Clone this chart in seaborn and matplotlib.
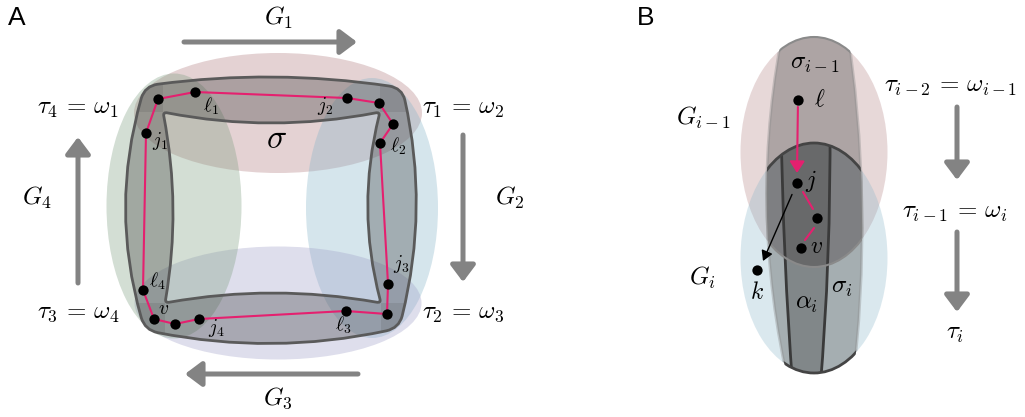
import numpy as np
import pandas as pd
import matplotlib
matplotlib.use('Agg')
import matplotlib.pyplot as plt
import seaborn as sns
from matplotlib.patches import Ellipse, PathPatch, FancyArrowPatch, Rectangle
from matplotlib.path import Path

sns.set_theme(style='white')
plt.rcParams['font.family'] = ['Liberation Sans', 'DejaVu Sans']
plt.rcParams['mathtext.fontset'] = 'cm'

# ---- panel A data (pixel coordinates) ----
group_names_a = ['G1', 'G2', 'G3', 'G4']
group_cx_a = [278, 372, 278, 174]
group_cy_a = [113, 208, 303, 206]
group_w_a = [288, 132, 287, 135]
group_h_a = [120, 260, 113, 265]
group_col_a = ['#b27e81', '#87b5c9', '#a1a1c9', '#81a184']

# ring (sigma): corners + quadratic control points (top, right, bottom, left)
outer_corners = [(145, 86), (402, 88), (399, 328), (145, 330)]
outer_ctrls = [(273, 67), (432, 208), (272, 358), (106, 208)]
inner_corners = [(163, 112), (380, 112), (381, 303), (165, 303)]
inner_ctrls = [(271, 134), (355, 208), (273, 283), (182, 208)]

# nodes on the pink loop, in order
loop_x = [146, 158, 195, 347, 379, 393, 380, 388, 387, 346, 199, 175, 154, 143]
loop_y = [133, 99, 92, 98, 103, 124, 143, 284, 314, 311, 319, 324, 319, 290]

node_labels_a = [r'$\ell_1$', r'$j_2$', r'$j_1$', r'$\ell_2$', r'$j_3$',
                 r'$\ell_4$', r'$v$', r'$j_4$', r'$\ell_3$']
node_lab_x_a = [211, 325, 160, 398, 401, 157, 164, 216, 343]
node_lab_y_a = [106, 106, 141, 146, 264, 281, 310, 328, 325]

big_labels_a = [r'$G_1$', r'$G_2$', r'$G_3$', r'$G_4$',
                r'$\tau_4 \,=\, \omega_1$', r'$\tau_1 \,=\, \omega_2$',
                r'$\tau_3 \,=\, \omega_4$', r'$\tau_2 \,=\, \omega_3$']
big_lab_x_a = [278, 510, 278, 37, 78, 463, 78, 463]
big_lab_y_a = [18, 198, 398, 198, 108, 108, 312, 312]

arrows_a = [((184, 42), (357, 42)), ((463, 135), (463, 282)),
            ((358, 374), (185, 374)), ((78, 283), (78, 137))]

# ---- panel B data ----
group_cx_b = [814, 814]
group_cy_b = [152, 258]
group_w_b = [147, 147]
group_h_b = [230, 230]
group_col_b = ['#b27e81', '#87b5c9']

nodes_b_x = [798, 797, 817, 801, 757]
nodes_b_y = [100, 183, 218, 248, 270]

labels_b = [r'$\sigma_{i-1}$', r'$\ell$', r'$j$', r'$v$', r'$k$',
            r'$G_{i-1}$', r'$G_i$', r'$\sigma_i$', r'$\alpha_i$',
            r'$\tau_{i-2} \,=\, \omega_{i-1}$', r'$\tau_{i-1} \,=\, \omega_i$', r'$\tau_i$']
lab_x_b = [815, 820, 811, 817, 757, 703, 702, 842, 807, 951, 955, 955]
lab_y_b = [63, 100, 181, 247, 293, 118, 278, 287, 303, 86, 212, 333]
small_b = [r'$\ell$', r'$j$', r'$v$', r'$k$']

arrows_b = [((957, 107), (957, 180)), ((957, 232), (957, 312))]

PINK = '#e5206f'
GREY = '#838383'


def sub_quad(p0, c, p1, t0, t1):
    p0, c, p1 = np.array(p0, float), np.array(c, float), np.array(p1, float)
    b = lambda t: (1 - t) ** 2 * p0 + 2 * t * (1 - t) * c + t ** 2 * p1
    cc = (1 - t0) * (1 - t1) * p0 + ((1 - t0) * t1 + t0 * (1 - t1)) * c + t0 * t1 * p1
    return b(t0), cc, b(t1)


def quad_loop(corners, ctrls, r=0.0):
    # closed loop of quadratic edges, corners rounded by fraction r
    n = len(corners)
    segs = [sub_quad(corners[i], ctrls[i], corners[(i + 1) % n], r, 1 - r) for i in range(n)]
    verts = [segs[0][0]]
    codes = [Path.MOVETO]
    for i in range(n):
        s, cc, e = segs[i]
        verts += [cc, e]
        codes += [Path.CURVE3, Path.CURVE3]
        if r > 0:
            verts += [corners[(i + 1) % n], segs[(i + 1) % n][0]]
            codes += [Path.CURVE3, Path.CURVE3]
    verts.append(verts[0])
    codes.append(Path.CLOSEPOLY)
    return Path(verts, codes)


fig = plt.figure(figsize=(10.25, 4.17), dpi=100)
ax = fig.add_axes([0, 0, 1, 1])

# coloured groups
for cx, cy, w, h, c in zip(group_cx_a, group_cy_a, group_w_a, group_h_a, group_col_a):
    ax.add_patch(Ellipse((cx, cy), w, h, facecolor=c, alpha=0.35, lw=0, zorder=1))

# grey ring
outer = quad_loop(outer_corners, outer_ctrls, r=0.05)
inner_rev_c = [inner_corners[0], inner_corners[3], inner_corners[2], inner_corners[1]]
inner_rev_k = [inner_ctrls[3], inner_ctrls[2], inner_ctrls[1], inner_ctrls[0]]
inner = quad_loop(inner_rev_c, inner_rev_k, r=0.02)
ring = Path.make_compound_path(outer, inner)
ax.add_patch(PathPatch(ring, facecolor='#3c3c3c', alpha=0.33, lw=0, zorder=2))
corner_boxes = [(100, 50, 63, 62), (380, 50, 70, 62), (381, 303, 70, 67), (100, 303, 65, 67)]
for bx, by, bw, bh in corner_boxes:
    r = Rectangle((bx, by), bw, bh, facecolor='#3c3c3c', alpha=0.13, lw=0, zorder=2)
    ax.add_patch(r)
    r.set_clip_path(ring, transform=ax.transData)
ax.add_patch(PathPatch(outer, facecolor='none', edgecolor='#5a5a5a', lw=2, zorder=3))
ax.add_patch(PathPatch(inner, facecolor='none', edgecolor='#5a5a5a', lw=2, zorder=3))

# pink loop and nodes
ax.plot(loop_x + loop_x[:1], loop_y + loop_y[:1], color=PINK, lw=1.5, zorder=4)
sns.scatterplot(x=loop_x, y=loop_y, ax=ax, color='black', s=55, linewidth=0, zorder=5)

for t, x, y in zip(node_labels_a, node_lab_x_a, node_lab_y_a):
    ax.text(x, y, t, fontsize=14, color='black', ha='center', va='center', zorder=6)
for t, x, y in zip(big_labels_a, big_lab_x_a, big_lab_y_a):
    ax.text(x, y, t, fontsize=18, color='black', ha='center', va='center', zorder=6)
ax.text(277, 140, r'$\sigma$', fontsize=24, color='black', ha='center', va='center', zorder=6)

for a, b in arrows_a + arrows_b:
    ax.add_patch(FancyArrowPatch(a, b, arrowstyle='-|>,head_length=1.0,head_width=0.75',
                                 mutation_scale=10, lw=3.6, color=GREY,
                                 shrinkA=0, shrinkB=0, zorder=3))

# ---- panel B ----
ells_b = []
for cx, cy, w, h, c in zip(group_cx_b, group_cy_b, group_w_b, group_h_b, group_col_b):
    e = Ellipse((cx, cy), w, h, facecolor=c, alpha=0.3, lw=0, zorder=1)
    ax.add_patch(e)
    ells_b.append(e)

barrel = Path([(785, 20), (746, 205), (790, 390), (852, 390), (875, 205), (846, 20), (785, 20)],
              [Path.MOVETO, Path.CURVE3, Path.CURVE3, Path.LINETO, Path.CURVE3, Path.CURVE3,
               Path.CLOSEPOLY])
for e in ells_b:
    p = PathPatch(barrel, facecolor='#505050', edgecolor='#8a8a8a', alpha=0.38, lw=2, zorder=2)
    ax.add_patch(p)
    p.set_clip_path(e)

band = Path([(781, 120), (783, 260), (793, 390), (820, 390), (831, 260), (830, 120), (781, 120)],
            [Path.MOVETO, Path.CURVE3, Path.CURVE3, Path.LINETO, Path.CURVE3, Path.CURVE3,
             Path.CLOSEPOLY])
bp = PathPatch(band, facecolor='#404040', edgecolor='none', alpha=0.35, zorder=2)
ax.add_patch(bp)
bp.set_clip_path(ells_b[1])
bo = PathPatch(band, facecolor='none', edgecolor='#3a3a3a', lw=2, zorder=3)
ax.add_patch(bo)
bo.set_clip_path(ells_b[1])

for (cx, cy, w, h), ec, lw in zip(zip(group_cx_b, group_cy_b, group_w_b, group_h_b),
                                  ['#8a8a8a', '#444444'], [1.5, 2]):
    o = Ellipse((cx, cy), w, h, facecolor='none', edgecolor=ec, lw=lw, zorder=3)
    ax.add_patch(o)
    o.set_clip_path(barrel, transform=ax.transData)

ax.add_patch(FancyArrowPatch((nodes_b_x[0], nodes_b_y[0]), (nodes_b_x[1], nodes_b_y[1] - 10),
                             arrowstyle='-|>,head_length=0.7,head_width=0.45', mutation_scale=10,
                             lw=1.5, color=PINK, shrinkA=5, shrinkB=0, zorder=4))
ax.plot([803, 813], [192, 209], color=PINK, lw=1.5, zorder=4)
ax.plot([814, 805], [228, 240], color=PINK, lw=1.5, zorder=4)
ax.add_patch(FancyArrowPatch((nodes_b_x[1], nodes_b_y[1]), (nodes_b_x[4] + 6, nodes_b_y[4] - 9),
                             arrowstyle='-|>,head_length=0.6,head_width=0.35', mutation_scale=10,
                             lw=1.0, color='black', shrinkA=9, shrinkB=0, zorder=4))
sns.scatterplot(x=nodes_b_x, y=nodes_b_y, ax=ax, color='black', s=55, linewidth=0, zorder=5)

for t, x, y in zip(labels_b, lab_x_b, lab_y_b):
    fs = 17 if t in small_b else 18
    ax.text(x, y, t, fontsize=fs, color='black', ha='center', va='center', zorder=6)

ax.text(17, 18, 'A', fontsize=19, color='black', ha='center', va='center')
ax.text(646, 18, 'B', fontsize=19, color='black', ha='center', va='center')

ax.set_xlim(0, 1025)
ax.set_ylim(417, 0)
ax.axis('off')
fig.savefig('out.png', dpi=100)
